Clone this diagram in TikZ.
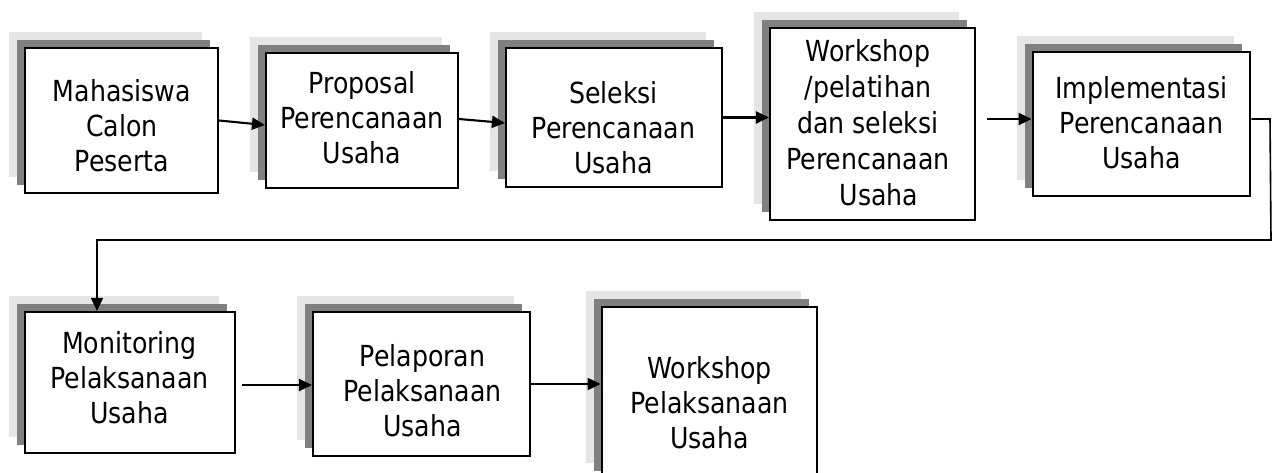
\documentclass[tikz,border=0pt]{standalone}
\usepackage{fontspec}
\setmainfont{DejaVu Sans}[FakeStretch=0.87]
\usetikzlibrary{arrows.meta,shadows}
\definecolor{shlight}{HTML}{E5E5E5}
\definecolor{shdark}{HTML}{808080}
\begin{document}
\begin{tikzpicture}[x=1pt,y=-1pt,
  stepbox/.style={draw=black, fill=white, line width=2.1pt, inner sep=0pt,
    general shadow={fill=shlight, shadow xshift=-16pt, shadow yshift=16pt},
    general shadow={fill=shdark, shadow xshift=-8pt, shadow yshift=8pt}},
  thickbox/.style={stepbox, line width=2.8pt},
  lbl/.style={align=center, font=\fontsize{29}{35}\selectfont, inner sep=0pt},
  conn/.style={line width=2.1pt, -{Triangle[length=13pt,width=12pt]}}]
\useasboundingbox (0,0) rectangle (1273,473);
\clip (0,0) rectangle (1273,473);
% boxes
\node[stepbox, minimum width=193pt, minimum height=145pt] (b1) at (121.5,120.5) {};
\node[stepbox, minimum width=192pt, minimum height=135pt] (b2) at (362,120.5) {};
\node[stepbox, minimum width=216pt, minimum height=139pt] (b3) at (614,117.5) {};
\node[stepbox, minimum width=205pt, minimum height=192pt] (b4) at (872.5,124) {};
\node[thickbox, minimum width=217pt, minimum height=144pt] (b5) at (1141.5,124) {};
\node[stepbox, minimum width=210pt, minimum height=141pt] (b6) at (130,382.5) {};
\node[stepbox, minimum width=217pt, minimum height=144pt] (b7) at (421.5,384) {};
\node[thickbox, minimum width=215pt, minimum height=172pt] (b8) at (709.5,393) {};
% texts
\node[lbl] (t1) at (122,125.5) {Mahasiswa\\Calon\\Peserta};
\node[lbl] (t2) at (362,117.5) {Proposal\\Perencanaan\\Usaha};
\node[lbl] (t3) at (613.5,128) {Seleksi\\Perencanaan\\Usaha};
\node[lbl, font=\fontsize{29}{36}\selectfont] (t4) at (868,123) {Workshop\\/pelatihan\\dan seleksi\\Perencanaan\\\hspace*{22pt}Usaha};
\node[lbl] (t5) at (1141.5,122.5) {Implementasi\\Perencanaan\\Usaha};
\node[lbl] (t6) at (129.5,378) {Monitoring\\Pelaksanaan\\Usaha};
\node[lbl] (t7) at (422.5,390.5) {Pelaporan\\Pelaksanaan\\Usaha};
\node[lbl] (t8) at (709.5,403) {Workshop\\Pelaksanaan\\Usaha};
% connectors
\coordinate (c4) at (987,119);
\coordinate (c5) at (242,385);
\coordinate (r1) at (1270,119);
\coordinate (r2) at (1271,240);
\coordinate (r3) at (97,240);
\draw[conn] (b1.east) -- ([yshift=-4.5pt]b2.west);
\draw[conn] ([yshift=1.5pt]b2.east) -- ([yshift=-5.5pt]b3.west);
\draw[conn] (b3.east) -- (b3.east -| b4.west);
\draw[conn] (c4) -- (c4 -| b5.west);
\draw[conn, line width=1.6pt] ([yshift=5pt]b5.east) -- (r1) -- (r2) -- (r3) -- (r3 |- b6.north);
\draw[conn] (c5) -- (c5 -| b7.west);
\draw[conn] (b7.east) -- (b7.east -| b8.west);
\end{tikzpicture}
\end{document}
